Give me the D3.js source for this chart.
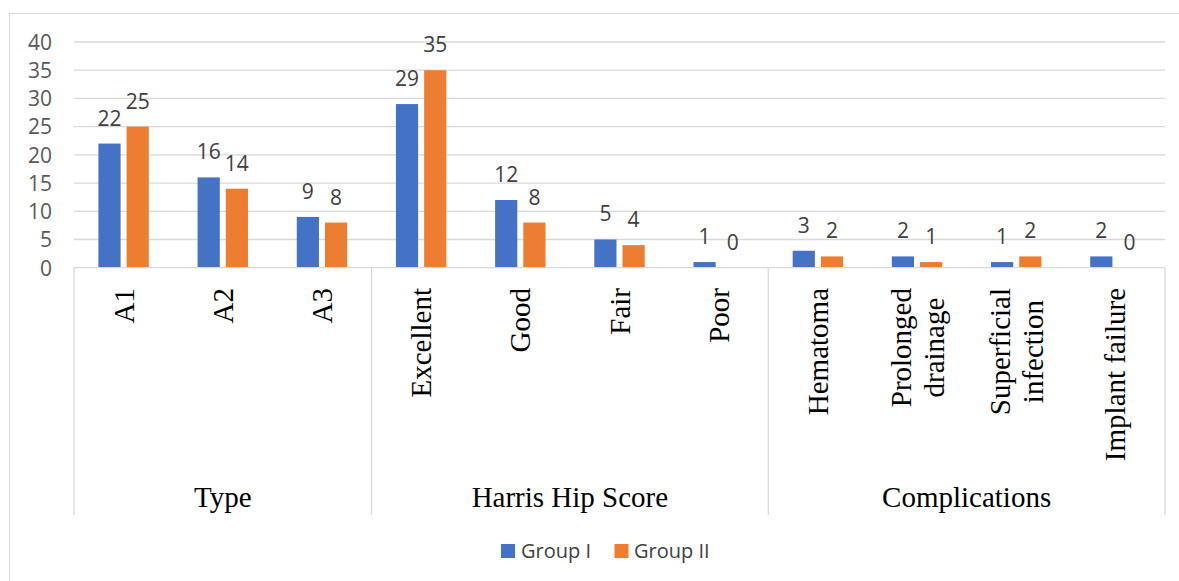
<!DOCTYPE html>
<html>
<head>
<meta charset="utf-8">
<script src="https://cdn.jsdelivr.net/npm/d3@7"></script>
<style>
  html, body { margin: 0; padding: 0; background: #fff; }
  svg { display: block; }
</style>
</head>
<body>
<svg id="chart" width="1179" height="581"></svg>
<script>
// ---- data ----
const categories = ["A1", "A2", "A3", "Excellent", "Good", "Fair", "Poor",
  "Hematoma", "Prolonged\ndrainage", "Superficial\ninfection", "Implant failure"];
const groups = [
  { name: "Type", start: 0, end: 3 },
  { name: "Harris Hip Score", start: 3, end: 7 },
  { name: "Complications", start: 7, end: 11 }
];
const seriesNames = ["Group I", "Group II"];
const groupI  = [22, 16, 9, 29, 12, 5, 1, 3, 2, 1, 2];
const groupII = [25, 14, 8, 35, 8, 4, 0, 2, 1, 2, 0];
const yTicks = [0, 5, 10, 15, 20, 25, 30, 35, 40];
const colors = ["#4472C4", "#ED7D31"];

const svg = d3.select("#chart");
const plotL = 74, plotR = 1165, plotT = 42, plotB = 267.7;
const gridColor = "#d9d9d9";

// outer chart border (cropped at right/bottom)
svg.append("rect").attr("x", 9.5).attr("y", 13.5).attr("width", 1300).attr("height", 700)
  .attr("fill", "none").attr("stroke", gridColor).attr("stroke-width", 1);

const x0 = d3.scaleBand().domain(d3.range(categories.length)).range([plotL, plotR]).padding(0);
const x1 = d3.scaleBand().domain([0, 1]).range([0, x0.bandwidth()])
  .paddingInner(0.213).paddingOuter(0.865);
const y = d3.scaleLinear().domain([0, 40]).range([plotB, plotT]);

// gridlines
svg.append("g").selectAll("line").data(yTicks.filter(d => d > 0)).join("line")
  .attr("x1", plotL).attr("x2", plotR)
  .attr("y1", d => y(d)).attr("y2", d => y(d))
  .attr("stroke", gridColor).attr("stroke-width", 1.3);

// y axis labels
const yAxis = d3.axisLeft(y).tickValues(yTicks).tickSize(0).tickPadding(0);
const gy = svg.append("g").attr("transform", `translate(52,0)`).call(yAxis);
gy.select(".domain").remove();
gy.selectAll("text").attr("font-family", "'Open Sans', sans-serif").attr("font-size", 21)
  .attr("fill", "#595959").attr("dy", "0.35em");

// bars
const rows = categories.map((c, i) => ({ i, vals: [groupI[i], groupII[i]] }));
const gBars = svg.append("g");
rows.forEach(r => {
  r.vals.forEach((v, s) => {
    gBars.append("rect")
      .attr("x", x0(r.i) + x1(s))
      .attr("y", y(v))
      .attr("width", x1.bandwidth())
      .attr("height", y(0) - y(v))
      .attr("fill", colors[s]);
    gBars.append("text")
      .attr("x", x0(r.i) + x1(s) + x1.bandwidth() / 2)
      .attr("y", y(v) - 18)
      .attr("text-anchor", "middle")
      .attr("font-family", "'Open Sans', sans-serif").attr("font-size", 21)
      .attr("fill", "#404040")
      .text(v);
  });
});

// zero axis line
svg.append("line").attr("x1", plotL).attr("x2", plotR).attr("y1", plotB).attr("y2", plotB)
  .attr("stroke", gridColor).attr("stroke-width", 1.3);

// group separators
const sepBottom = 515;
const sepXs = [plotL].concat(groups.map(g => g.end === categories.length ? plotR : x0(g.end)));
svg.append("g").selectAll("line").data(sepXs).join("line")
  .attr("x1", d => d).attr("x2", d => d).attr("y1", plotB).attr("y2", sepBottom)
  .attr("stroke", gridColor).attr("stroke-width", 1.3);

// rotated category labels
const serif = "'Liberation Serif', 'Times New Roman', serif";
const labelTop = 288;
categories.forEach((c, i) => {
  const lines = c.split("\n");
  const cx = x0(i) + x0.bandwidth() / 2;
  const g = svg.append("g");
  const texts = lines.map((ln, k) => g.append("text")
    .attr("font-family", serif).attr("font-size", 29).attr("fill", "#000")
    .attr("text-anchor", "middle").text(ln));
  const maxLen = d3.max(texts, t => t.node().getComputedTextLength());
  const n = lines.length;
  texts.forEach((t, k) => {
    const off = (k - (n - 1) / 2) * 33 + 10;
    t.attr("transform", `translate(${cx + off},${labelTop + maxLen / 2}) rotate(-90)`);
  });
});

// group labels
groups.forEach(g => {
  const cx = (x0(g.start) + (g.end === categories.length ? plotR : x0(g.end))) / 2;
  svg.append("text").attr("x", cx).attr("y", 506.5).attr("text-anchor", "middle")
    .attr("font-family", serif).attr("font-size", 29).attr("fill", "#000").text(g.name);
});

// legend
const legend = svg.append("g");
const legendItems = [{ x: 501, tx: 521 }, { x: 614.5, tx: 634 }];
seriesNames.forEach((s, k) => {
  legend.append("rect").attr("x", legendItems[k].x).attr("y", 544).attr("width", 14).attr("height", 14)
    .attr("fill", colors[k]);
  legend.append("text").attr("x", legendItems[k].tx).attr("y", 557.5)
    .attr("font-family", "'Open Sans', sans-serif").attr("font-size", 20).attr("fill", "#404040")
    .text(s);
});
</script>
</body>
</html>
